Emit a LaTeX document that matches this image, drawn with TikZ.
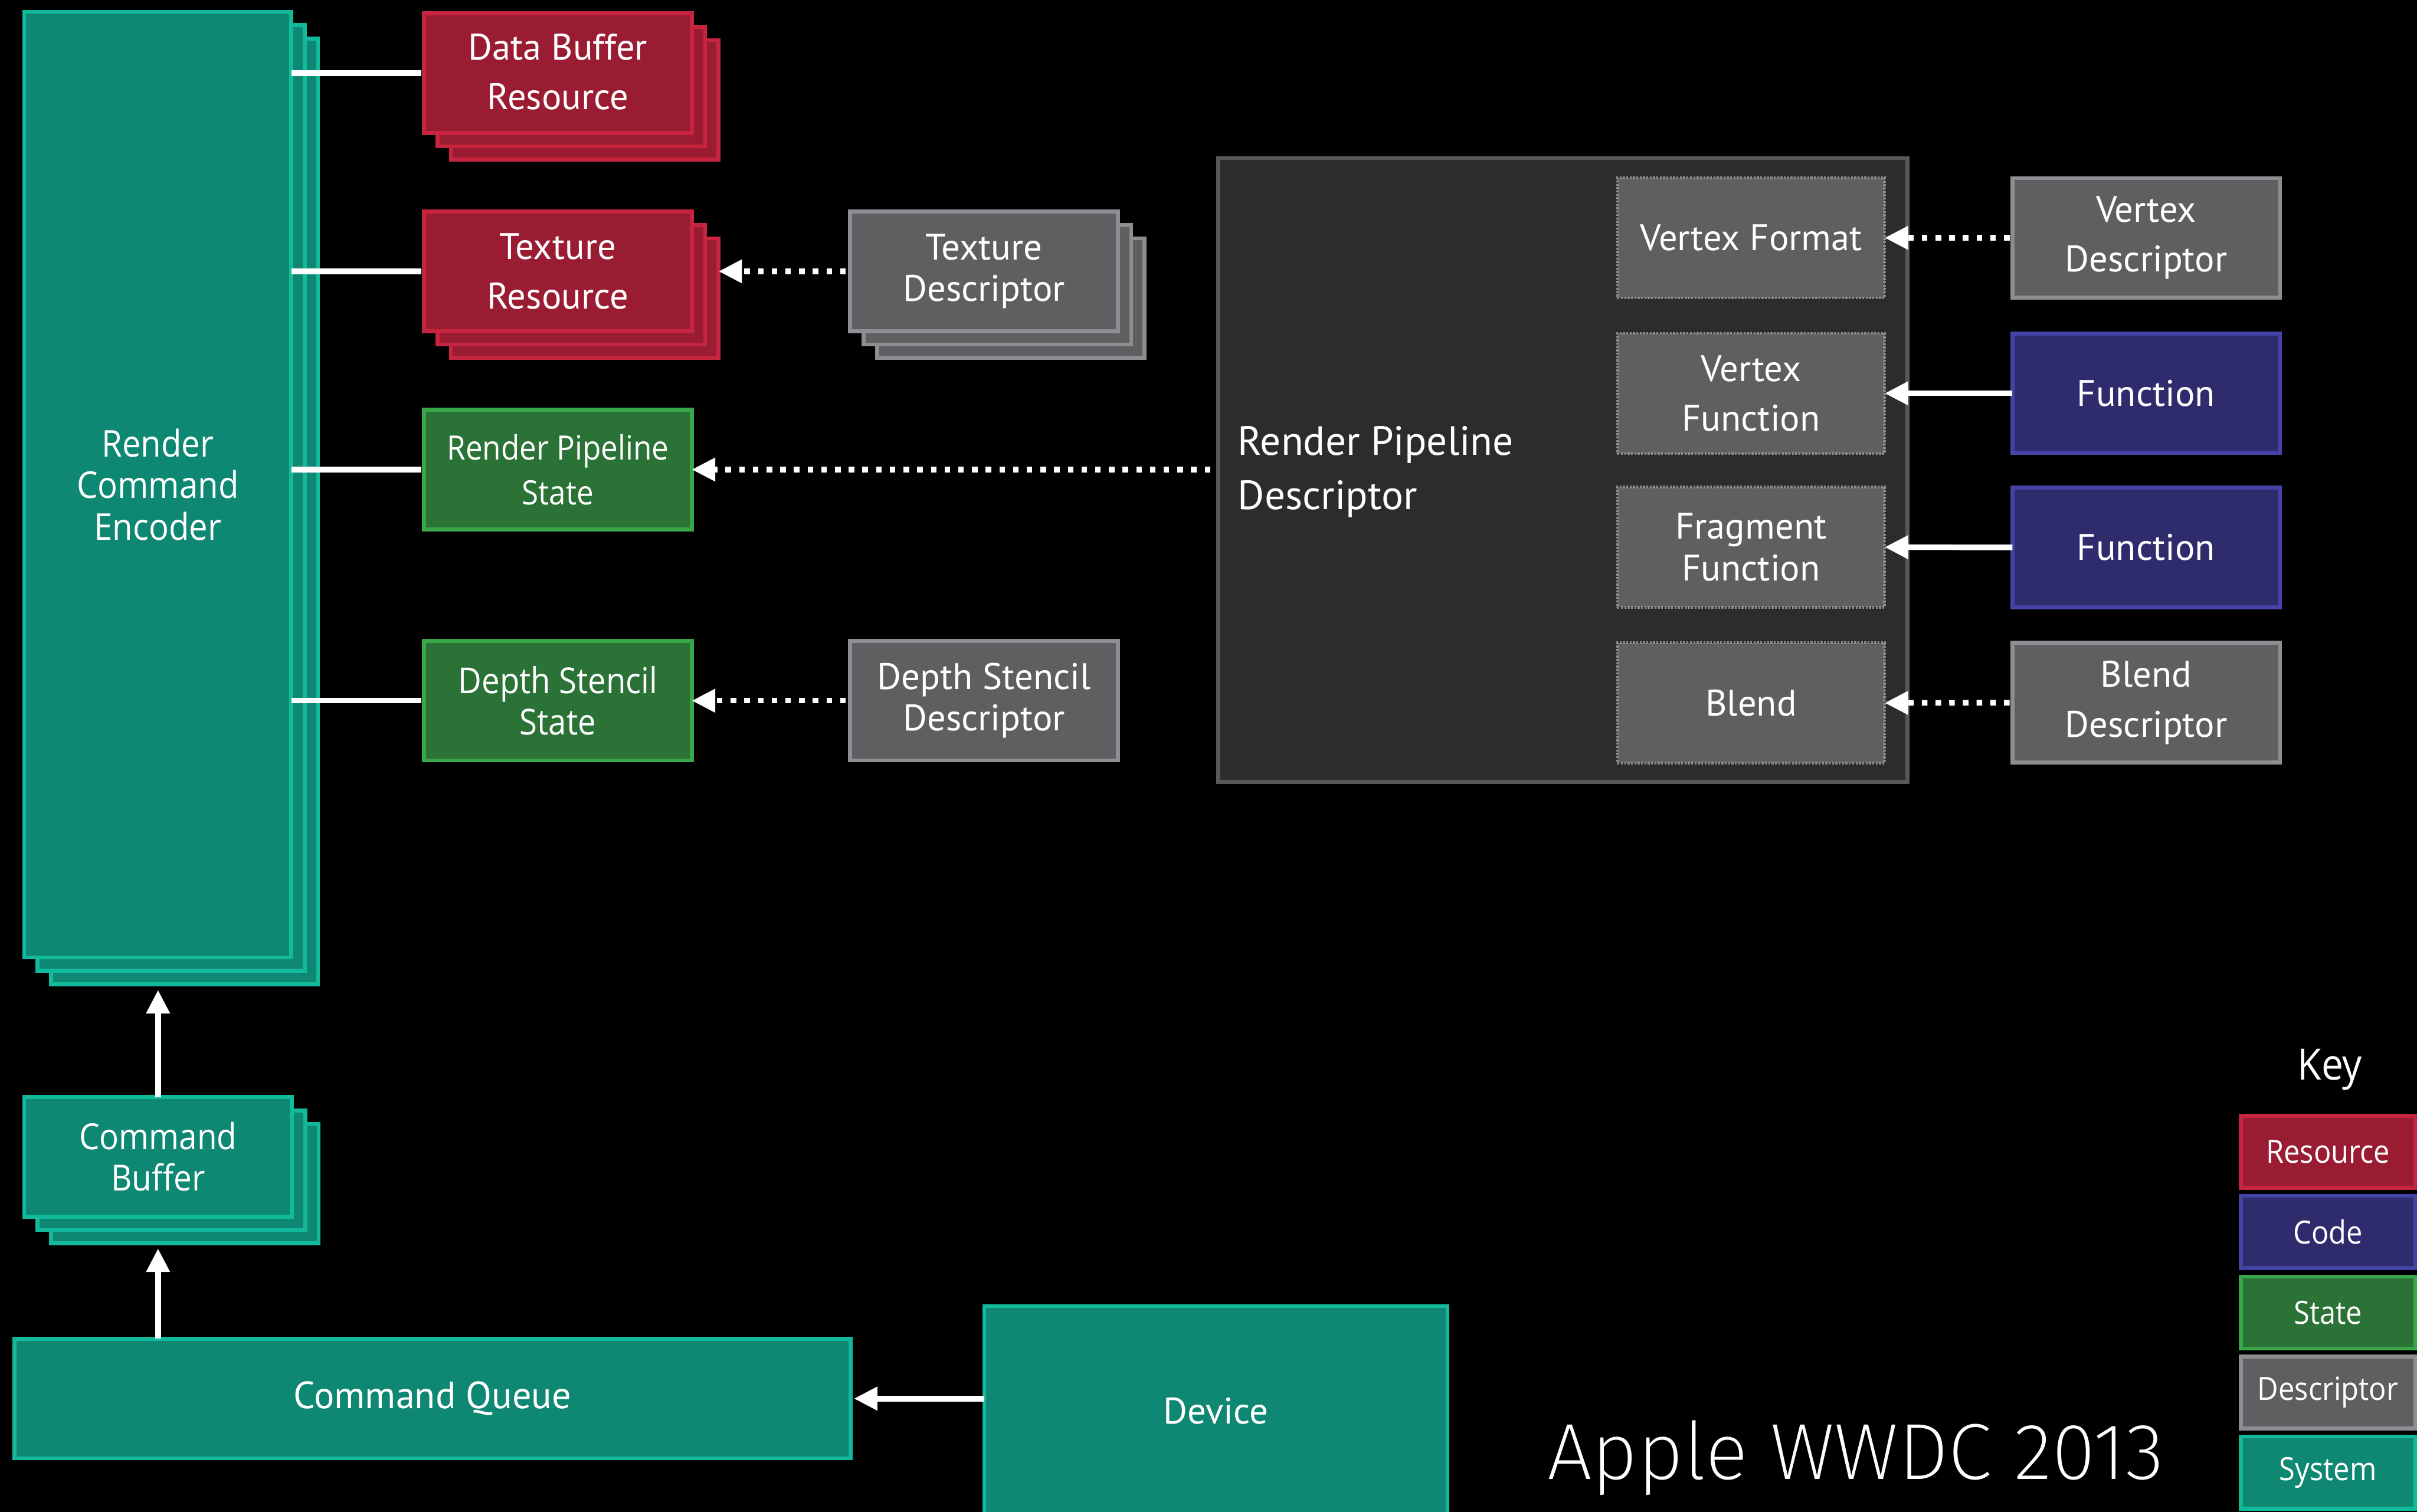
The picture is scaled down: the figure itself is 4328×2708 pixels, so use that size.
\documentclass[tikz,border=0pt]{standalone}
\usepackage{fontspec}
\setmainfont{PT Sans}
\newfontfamily\lucida[FakeStretch=0.9]{Open Sans}
\newfontfamily\thinfont{Fira Sans ExtraLight}
\usetikzlibrary{arrows.meta}

\definecolor{sysfill}{HTML}{0E8872}
\definecolor{sysline}{HTML}{12B99A}
\definecolor{resfill}{HTML}{9A1C33}
\definecolor{resline}{HTML}{C7243F}
\definecolor{stfill}{HTML}{2B7237}
\definecolor{stline}{HTML}{3AA64A}
\definecolor{descfill}{HTML}{5F5F61}
\definecolor{descline}{HTML}{8E8E92}
\definecolor{codefill}{HTML}{2E2C6C}
\definecolor{codeline}{HTML}{4543A6}
\definecolor{rpdfill}{HTML}{2C2C2C}
\definecolor{rpdline}{HTML}{585858}
\definecolor{dotline}{HTML}{8A8A8A}

\begin{document}
\begin{tikzpicture}[x=0.01cm, y=-0.01cm,
  box/.style={draw, line width=0.07cm, inner sep=0pt, outer sep=0pt, align=center, text=white},
  sys/.style={box, fill=sysfill, draw=sysline},
  res/.style={box, fill=resfill, draw=resline},
  st/.style={box, fill=stfill, draw=stline},
  desc/.style={box, fill=descfill, draw=descline},
  code/.style={box, fill=codefill, draw=codeline},
  slot/.style={box, fill=descfill, draw=dotline, line width=0.05cm, dash pattern=on 0.035cm off 0.025cm},
  std/.style={minimum width=4.79cm, minimum height=2.14cm},
  slotsize/.style={minimum width=4.78cm, minimum height=2.15cm},
  keybox/.style={minimum width=3.12cm, minimum height=1.29cm, font=\lucida\fontsize{16.3}{19}\selectfont},
  fmy/.style={font=\fontsize{18.8}{25.3}\selectfont},
  fmytight/.style={font=\fontsize{18.8}{21.1}\selectfont},
  link/.style={draw=white, line width=0.1cm},
  sarrow/.style={link, -{Triangle[length=0.42cm, width=0.4cm]}},
  darrow/.style={sarrow, dash pattern=on 0.1cm off 0.145cm}
]
\useasboundingbox (0,0) rectangle (4328,2708);
\clip (0,0) rectangle (4328,2708);
\fill[black] (0,0) rectangle (4328,2708);

% Render command encoder (stacked)
\node[sys, minimum width=4.78cm, minimum height=16.93cm] (rce3) at (330.5,916) {};
\node[sys, minimum width=4.78cm, minimum height=16.93cm] (rce2) at (306.5,892) {};
\node[sys, minimum width=4.78cm, minimum height=16.93cm,
      font=\lucida\fontsize{18.8}{21.1}\selectfont] (rce) at (282.5,868) {Render\\Command\\Encoder};

% Resources (stacked)
\node[res, std] (dbr3) at (1047,179) {};
\node[res, std] (dbr2) at (1023,155) {};
\node[res, std, fmy, text depth=0.05cm] (dbr) at (999,131) {Data Buffer\\Resource};

\node[res, std] (tr3) at (1047,534) {};
\node[res, std] (tr2) at (1023,510) {};
\node[res, std, fmy] (tr) at (999,486) {Texture\\Resource};

% Texture descriptor (stacked)
\node[desc, std] (td3) at (1810,534) {};
\node[desc, std] (td2) at (1786,510) {};
\node[desc, std, fmytight] (td) at (1762,486) {Texture\\Descriptor};

% States
\node[st, std, font=\lucida\fontsize{17.1}{23}\selectfont] (rps) at (999,841) {Render Pipeline\\State};
\node[st, std, font=\lucida\fontsize{18.2}{21.3}\selectfont] (dss) at (999,1255) {Depth Stencil\\State};
\node[desc, std, fmytight] (dsd) at (1762,1255) {Depth Stencil\\Descriptor};

% Render pipeline descriptor
\node[box, fill=rpdfill, draw=rpdline, minimum width=12.34cm, minimum height=11.17cm] (rpd) at (2798.5,842) {};
\node[anchor=west, align=left, inner sep=0pt, text=white,
      font=\fontsize{20.8}{27.5}\selectfont] (rpdl) at (2216,845) {Render Pipeline\\Descriptor};
\node[slot, slotsize, fmy] (vf) at (3135.5,426) {Vertex Format};
\node[slot, slotsize, fmy] (vfn) at (3135.5,704.5) {Vertex\\Function};
\node[slot, slotsize, fmytight] (ff) at (3135.5,980) {Fragment\\Function};
\node[slot, slotsize, fmy] (bl) at (3135.5,1259) {Blend};

\node[desc, std, fmy] (vd) at (3843,426) {Vertex\\Descriptor};
\node[code, std, fmy] (f1) at (3843,704.5) {Function};
\node[code, std, fmy] (f2) at (3843,980.5) {Function};
\node[desc, std, fmy] (bd) at (3843,1258.5) {Blend\\Descriptor};

% Command buffer (stacked), queue and device
\node[sys, std] (cb3) at (331,2120) {};
\node[sys, std] (cb2) at (307,2096) {};
\node[sys, std, font=\lucida\fontsize{18.3}{21.1}\selectfont] (cb) at (283,2072) {Command\\Buffer};
\node[sys, minimum width=14.96cm, minimum height=2.14cm, font=\fontsize{19.3}{22}\selectfont] (cq) at (774.5,2505) {Command Queue};
\node[sys, minimum width=8.29cm, minimum height=3.75cm, fmy] (dev) at (2177,2527) {Device};

% Key
\node[text=white, inner sep=0pt, font=\lucida\fontsize{22}{24}\selectfont] (key) at (4172,1916) {Key};
\node[res, keybox] (kres) at (4168.5,2063) {Resource};
\node[code, keybox] (kcode) at (4168.5,2206.5) {Code};
\node[st, keybox] (kst) at (4168.5,2351) {State};
\node[desc, keybox] (kdesc) at (4168.5,2494) {Descriptor};
\node[sys, keybox] (ksys) at (4168.5,2637.5) {System};

\node[anchor=base west, inner sep=0pt, text=white,
      font=\thinfont\fontsize{40.5}{44}\selectfont] (wwdc) at (2770,2649) {Apple WWDC 2013};

% Connectors
\draw[link, shorten >=0.05cm] (rce.east |- dbr.west) -- (dbr.west);
\draw[link, shorten >=0.05cm] (rce.east |- tr.west) -- (tr.west);
\draw[link, shorten >=0.05cm] (rce.east |- rps.west) -- (rps.west);
\draw[link, shorten >=0.05cm] (rce.east |- dss.west) -- (dss.west);

\draw[darrow, shorten <=0.08cm] (td.west) -- (tr3.east |- td.west);
\draw[darrow, shorten <=0.14cm] (rpd.west |- rps.east) -- (rps.east);
\draw[darrow, shorten <=0.08cm] (dsd.west) -- (dss.east);

\draw[darrow, shorten <=0.05cm] (vd.west) -- (vf.east);
\draw[sarrow] (f1.west) -- (vfn.east);
\draw[sarrow] (f2.west) -- (ff.east);
\draw[darrow, shorten <=0.05cm] (bd.west) -- (bl.east);

\draw[sarrow, shorten >=0.1cm] (cb.north) -- (cb.north |- rce3.south);
\draw[sarrow, shorten >=0.09cm] (cb.south |- cq.north) -- (cb.south |- cb3.south);
\draw[sarrow, shorten >=0.06cm] (dev.west |- cq.east) -- (cq.east);
\end{tikzpicture}
\end{document}
